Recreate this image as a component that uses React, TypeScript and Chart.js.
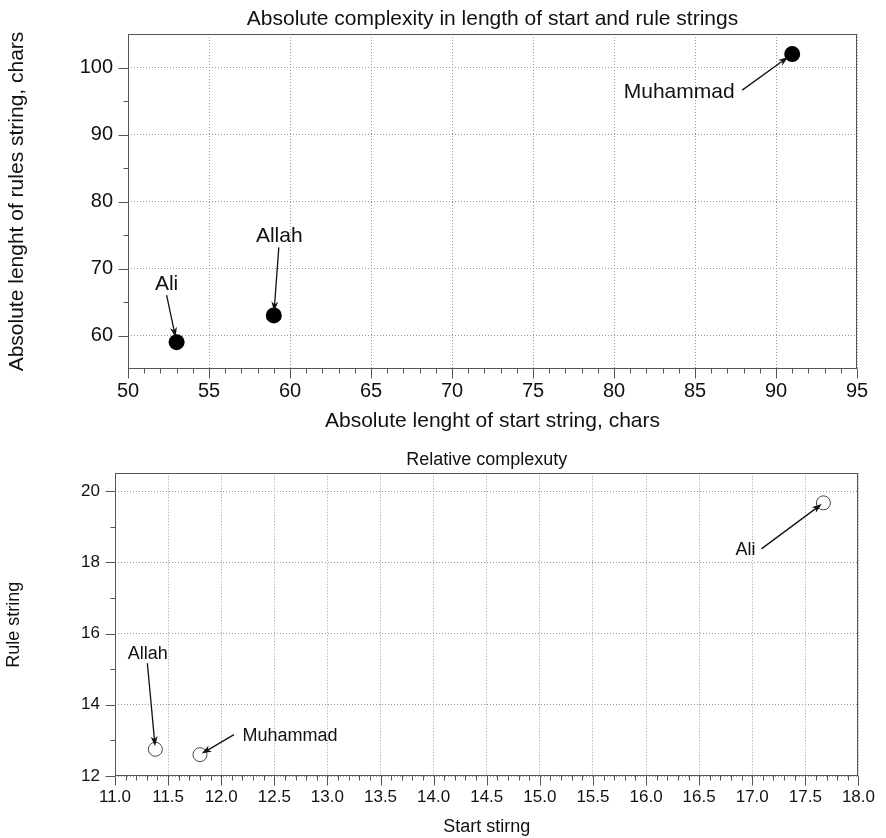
import React, { useEffect, useRef } from "react";
import { Chart, registerables } from "chart.js";

Chart.register(...registerables);

const FONT = "'Liberation Sans', Arial, Helvetica, sans-serif";

// ---------- data ----------
const absNames = ["Ali", "Allah", "Muhammad"];
const absStart = [53, 59, 91];
const absRules = [59, 63, 102];

const relNames = ["Ali", "Allah", "Muhammad"];
const relStart = [17.67, 11.38, 11.8];
const relRules = [19.67, 12.75, 12.6];

const absXTicks = [50, 55, 60, 65, 70, 75, 80, 85, 90, 95];
const absYTicks = [60, 70, 80, 90, 100];
const relXTicks = [11.0, 11.5, 12.0, 12.5, 13.0, 13.5, 14.0, 14.5, 15.0, 15.5, 16.0, 16.5, 17.0, 17.5, 18.0];
const relYTicks = [12, 14, 16, 18, 20];

// annotation placement (pixel offsets from each point): text anchor, arrow start, arrow tip back-off
const absAnn = [
  { tx: -10, ty: -52, ax: -10, ay: -47, back: 5 },
  { tx: 5.5, ty: -73, ax: 5, ay: -68, back: 4 },
  { tx: -113, ty: 44, ax: -50, ay: 36, back: 5 },
];
const relAnn = [
  { tx: -78, ty: 52, ax: -62, ay: 46, back: 2 },
  { tx: -7.5, ty: -90, ax: -8, ay: -86, back: 3 },
  { tx: 90, ty: -14, ax: 34, ay: -20, back: 2 },
];

const AXIS = "#555";
const GRID = "#9a9a9a";
const TEXT = "#111";

const decorPlugin = {
  id: "decor",
  afterDatasetsDraw(chart: any, _args: any, opts: any) {
    const { ctx, chartArea: a } = chart;
    const x = chart.scales.x;
    const y = chart.scales.y;
    ctx.save();
    ctx.strokeStyle = AXIS;
    ctx.lineWidth = 1;
    const L = Math.round(a.left) + 0.5;
    const R = Math.round(a.right) - 0.5;
    const T = Math.round(a.top) + 0.5;
    const B = Math.round(a.bottom) - 0.5;
    ctx.strokeRect(L, T, R - L, B - T);

    const majorLen = opts.majorLen;
    const minorLen = opts.minorLen;
    const xMaj: number[] = opts.xTicks;
    const yMaj: number[] = opts.yTicks;
    ctx.beginPath();
    const isMajor = (v: number, arr: number[]) => arr.some((m) => Math.abs(m - v) < 1e-6);
    const nx = Math.round((x.max - x.min) / opts.xMinor);
    for (let i = 0; i <= nx; i++) {
      const v = x.min + i * opts.xMinor;
      const p = Math.round(x.getPixelForValue(v)) + 0.5;
      const len = isMajor(v, xMaj) ? majorLen : minorLen;
      ctx.moveTo(p, B);
      ctx.lineTo(p, B + len);
    }
    const ny = Math.round((y.max - y.min) / opts.yMinor);
    for (let i = 0; i <= ny; i++) {
      const v = y.min + i * opts.yMinor;
      if (i === 0 || i === ny) {
        if (!isMajor(v, yMaj)) continue;
      }
      const p = Math.round(y.getPixelForValue(v)) + 0.5;
      const len = isMajor(v, yMaj) ? majorLen : minorLen;
      ctx.moveTo(L, p);
      ctx.lineTo(L - len, p);
    }
    ctx.stroke();

    // annotations
    const ds = chart.data.datasets[0].data;
    const ann = opts.ann;
    const names: string[] = opts.names;
    ctx.font = `${opts.annSize}px ${FONT}`;
    ctx.fillStyle = TEXT;
    ctx.textAlign = "center";
    ctx.textBaseline = "alphabetic";
    for (let i = 0; i < ds.length; i++) {
      const px = x.getPixelForValue(ds[i].x);
      const py = y.getPixelForValue(ds[i].y);
      const an = ann[i];
      ctx.fillText(names[i], px + an.tx, py + an.ty);
      const sx = px + an.ax;
      const sy = py + an.ay;
      const dx = px - sx;
      const dy = py - sy;
      const d = Math.hypot(dx, dy);
      const ux = dx / d;
      const uy = dy / d;
      const ex = px - ux * an.back;
      const ey = py - uy * an.back;
      const hl = 10;
      const hw = 3.5;
      ctx.strokeStyle = "#111";
      ctx.lineWidth = 1.3;
      ctx.beginPath();
      ctx.moveTo(sx, sy);
      ctx.lineTo(ex - ux * hl * 0.6, ey - uy * hl * 0.6);
      ctx.stroke();
      ctx.beginPath();
      ctx.moveTo(ex, ey);
      ctx.lineTo(ex - ux * hl - uy * hw, ey - uy * hl + ux * hw);
      ctx.lineTo(ex - ux * hl * 0.7, ey - uy * hl * 0.7);
      ctx.lineTo(ex - ux * hl + uy * hw, ey - uy * hl - ux * hw);
      ctx.closePath();
      ctx.fillStyle = "#111";
      ctx.fill();
      ctx.fillStyle = TEXT;
    }
    ctx.restore();
  },
};

type Spec = {
  width: number;
  height: number;
  xs: number[];
  ys: number[];
  names: string[];
  xMin: number;
  xMax: number;
  yMin: number;
  yMax: number;
  xTicks: number[];
  yTicks: number[];
  xMinor: number;
  yMinor: number;
  xDecimals: number;
  title: string;
  xTitle: string;
  yTitle: string;
  titleSize: number;
  titlePad: { top: number; bottom: number };
  axisTitleSize: number;
  yTitlePad: number;
  xTitlePad: number;
  tickSize: number;
  yTickPad: number;
  xTickPad: number;
  yAxisWidth: number;
  xAxisHeight: number;
  padRight: number;
  padBottom: number;
  point: any;
  ann: any[];
  annSize: number;
  majorLen: number;
  minorLen: number;
};

function makeConfig(s: Spec): any {
  return {
    type: "scatter",
    data: {
      datasets: [
        {
          data: s.xs.map((v, i) => ({ x: v, y: s.ys[i] })),
          ...s.point,
          clip: false,
        },
      ],
    },
    plugins: [decorPlugin],
    options: {
      responsive: false,
      animation: false,
      events: [],
      layout: { padding: { left: 0, right: s.padRight, top: 0, bottom: s.padBottom } },
      plugins: {
        legend: { display: false },
        tooltip: { enabled: false },
        title: {
          display: true,
          text: s.title,
          fullSize: false,
          color: TEXT,
          font: { family: FONT, size: s.titleSize, weight: "normal" },
          padding: s.titlePad,
        },
        decor: {
          xTicks: s.xTicks,
          yTicks: s.yTicks,
          xMinor: s.xMinor,
          yMinor: s.yMinor,
          ann: s.ann,
          names: s.names,
          annSize: s.annSize,
          majorLen: s.majorLen,
          minorLen: s.minorLen,
        },
      },
      scales: {
        x: {
          type: "linear",
          min: s.xMin,
          max: s.xMax,
          afterBuildTicks: (sc: any) => {
            sc.ticks = s.xTicks.map((v) => ({ value: v }));
          },
          afterFit: (sc: any) => {
            sc.height = s.xAxisHeight;
          },
          ticks: {
            color: TEXT,
            padding: s.xTickPad,
            maxRotation: 0,
            autoSkip: false,
            font: { family: FONT, size: s.tickSize },
            callback: (v: any) => Number(v).toFixed(s.xDecimals),
          },
          grid: { color: GRID, lineWidth: 1, drawTicks: false },
          border: { display: false, dash: [1, 2] },
          title: {
            display: true,
            text: s.xTitle,
            color: TEXT,
            font: { family: FONT, size: s.axisTitleSize },
            padding: { top: 0, bottom: s.xTitlePad },
          },
        },
        y: {
          type: "linear",
          min: s.yMin,
          max: s.yMax,
          afterBuildTicks: (sc: any) => {
            sc.ticks = s.yTicks.map((v) => ({ value: v }));
          },
          afterFit: (sc: any) => {
            sc.width = s.yAxisWidth;
          },
          ticks: {
            color: TEXT,
            padding: s.yTickPad,
            autoSkip: false,
            font: { family: FONT, size: s.tickSize },
            callback: (v: any) => String(v),
          },
          grid: { color: GRID, lineWidth: 1, drawTicks: false },
          border: { display: false, dash: [1, 2] },
          title: {
            display: true,
            text: s.yTitle,
            color: TEXT,
            font: { family: FONT, size: s.axisTitleSize },
            padding: { top: s.yTitlePad, bottom: 0 },
          },
        },
      },
    },
  };
}

function ChartCanvas({ spec }: { spec: Spec }) {
  const ref = useRef<HTMLCanvasElement | null>(null);
  useEffect(() => {
    if (!ref.current) return;
    const chart = new Chart(ref.current, makeConfig(spec));
    return () => chart.destroy();
  }, [spec]);
  return (
    <canvas
      ref={ref}
      width={spec.width}
      height={spec.height}
      style={{ display: "block", width: spec.width, height: spec.height }}
    />
  );
}

const topSpec: Spec = {
  width: 886,
  height: 440,
  xs: absStart,
  ys: absRules,
  names: absNames,
  xMin: 50,
  xMax: 95,
  yMin: 55,
  yMax: 105,
  xTicks: absXTicks,
  yTicks: absYTicks,
  xMinor: 1,
  yMinor: 5,
  xDecimals: 0,
  title: "Absolute complexity in length of start and rule strings",
  xTitle: "Absolute lenght of start string, chars",
  yTitle: "Absolute lenght of rules string, chars",
  titleSize: 21,
  titlePad: { top: 6.4, bottom: 2.4 },
  axisTitleSize: 21,
  yTitlePad: 5,
  xTitlePad: 5,
  tickSize: 20,
  yTickPad: 15,
  xTickPad: 10,
  yAxisWidth: 128,
  xAxisHeight: 70,
  padRight: 29,
  padBottom: 1,
  point: { pointRadius: 8, pointBackgroundColor: "#000", pointBorderWidth: 0, pointBorderColor: "#000" },
  ann: absAnn,
  annSize: 21,
  majorLen: 10,
  minorLen: 5,
};

const bottomSpec: Spec = {
  width: 886,
  height: 398,
  xs: relStart,
  ys: relRules,
  names: relNames,
  xMin: 11,
  xMax: 18,
  yMin: 12,
  yMax: 20.5,
  xTicks: relXTicks,
  yTicks: relYTicks,
  xMinor: 0.1,
  yMinor: 1,
  xDecimals: 1,
  title: "Relative complexuty",
  xTitle: "Start stirng",
  yTitle: "Rule string",
  titleSize: 18,
  titlePad: { top: 9.5, bottom: 2.2 },
  axisTitleSize: 18,
  yTitlePad: 3.7,
  xTitlePad: 0.2,
  tickSize: 17,
  yTickPad: 15,
  xTickPad: 11,
  yAxisWidth: 115,
  xAxisHeight: 62,
  padRight: 25,
  padBottom: 0,
  point: { pointRadius: 7, pointBackgroundColor: "rgba(255,255,255,0)", pointBorderWidth: 1, pointBorderColor: "#444" },
  ann: relAnn,
  annSize: 18,
  majorLen: 10,
  minorLen: 5,
};

export default function App() {
  return (
    <div style={{ position: "absolute", left: 0, top: 0, width: 886, height: 838, background: "#fff" }}>
      <ChartCanvas spec={topSpec} />
      <ChartCanvas spec={bottomSpec} />
    </div>
  );
}
